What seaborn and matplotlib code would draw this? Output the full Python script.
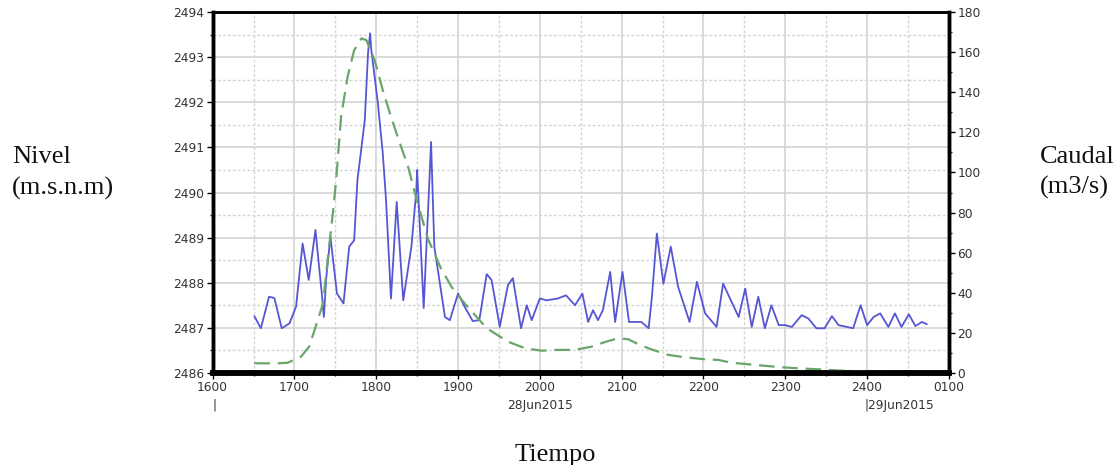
import numpy as np
import pandas as pd
import seaborn as sns
import matplotlib.pyplot as plt
from matplotlib.ticker import MultipleLocator
import matplotlib.transforms as mtransforms

# Nivel (blue, left axis), hora decimal desde las 16:00 del 28Jun2015
nivel_hora = [16.51, 16.59, 16.69, 16.755, 16.845, 16.94, 17.02, 17.10, 17.175, 17.257,
              17.31, 17.334, 17.36, 17.39, 17.44, 17.52, 17.60, 17.67, 17.73, 17.77,
              17.86, 17.90, 17.925, 17.94, 18.02, 18.08, 18.12, 18.18, 18.25, 18.33,
              18.43, 18.49, 18.50, 18.58, 18.65, 18.67, 18.71, 18.84, 18.90, 19.0,
              19.08, 19.18, 19.26, 19.35, 19.41, 19.51, 19.61, 19.67, 19.77, 19.84,
              19.90, 20.0, 20.08, 20.22, 20.32, 20.43, 20.52, 20.59, 20.65, 20.71,
              20.77, 20.86, 20.92, 21.01, 21.09, 21.24, 21.33, 21.37, 21.43, 21.51,
              21.60, 21.69, 21.83, 21.92, 22.02, 22.16, 22.24, 22.43, 22.51, 22.59,
              22.67, 22.75, 22.83, 22.92, 23.0, 23.08, 23.20, 23.28, 23.38, 23.48,
              23.57, 23.65, 23.83, 23.92, 24.0, 24.08, 24.16, 24.26, 24.34, 24.42,
              24.51, 24.59, 24.67, 24.73]
nivel = [2487.26, 2486.99, 2487.69, 2487.66, 2486.99, 2487.10, 2487.47, 2488.87, 2488.06, 2489.17,
         2488.20, 2487.77, 2487.24, 2488.13, 2489.02, 2487.76, 2487.54, 2488.80, 2488.94, 2490.27,
         2491.60, 2493.10, 2493.53, 2493.16, 2491.98, 2490.87, 2489.83, 2487.65, 2489.79, 2487.61,
         2488.80, 2490.05, 2490.50, 2487.44, 2490.27, 2491.12, 2488.80, 2487.24, 2487.17, 2487.76,
         2487.47, 2487.15, 2487.17, 2488.19, 2488.06, 2487.02, 2487.95, 2488.10, 2486.99, 2487.50,
         2487.17, 2487.65, 2487.61, 2487.65, 2487.72, 2487.50, 2487.76, 2487.13, 2487.39, 2487.17,
         2487.39, 2488.24, 2487.13, 2488.24, 2487.13, 2487.13, 2486.99, 2487.69, 2489.09, 2487.98,
         2488.80, 2487.91, 2487.13, 2488.02, 2487.32, 2487.02, 2487.98, 2487.24, 2487.87, 2487.02,
         2487.69, 2486.99, 2487.50, 2487.06, 2487.06, 2487.02, 2487.28, 2487.21, 2486.99, 2486.99,
         2487.26, 2487.06, 2486.99, 2487.50, 2487.06, 2487.24, 2487.32, 2487.02, 2487.32, 2487.02,
         2487.30, 2487.04, 2487.13, 2487.08]

# Caudal (green dashed, right axis)
caudal_hora = [16.51, 16.80, 16.92, 17.08, 17.18, 17.26, 17.35, 17.41, 17.47, 17.51,
               17.57, 17.65, 17.73, 17.82, 17.88, 17.98, 18.08, 18.18, 18.29, 18.39,
               18.49, 18.63, 18.79, 18.92, 19.08, 19.35, 19.61, 19.82, 20.02, 20.22,
               20.43, 20.63, 20.81, 20.96, 21.08, 21.22, 21.36, 21.57, 21.77, 22.02,
               22.18, 22.34, 22.63, 22.96, 23.16, 23.41, 23.65, 23.98, 24.38, 24.71]
caudal = [4.8, 4.8, 5.1, 8.1, 13.1, 23.1, 34.7, 58.0, 79.6, 96.2,
          127.8, 147.7, 161.0, 166.9, 166.0, 156.0, 141.1, 127.8, 114.5, 102.8,
          87.0, 67.1, 52.2, 43.0, 34.7, 22.3, 15.6, 12.3, 11.1, 11.5,
          11.5, 13.1, 15.6, 17.3, 16.8, 14.0, 11.8, 9.0, 7.8, 6.8,
          6.5, 5.1, 4.0, 2.8, 2.3, 1.8, 1.2, 0.7, 0.3, 0.2]

x_ticks = [16, 17, 18, 19, 20, 21, 22, 23, 24, 25]
x_labels = ["1600", "1700", "1800", "1900", "2000", "2100", "2200", "2300", "2400", "0100"]

df_nivel = pd.DataFrame({"hora": nivel_hora, "nivel": nivel})
df_caudal = pd.DataFrame({"hora": caudal_hora, "caudal": caudal})

sns.set_style("white")
plt.rcParams['font.family'] = ['DejaVu Sans']

fig = plt.figure(figsize=(11.19, 4.65), dpi=100)
ax = fig.add_axes([0.190, 0.198, 0.658, 0.776])
ax2 = ax.twinx()

sns.lineplot(ax=ax, data=df_nivel, x="hora", y="nivel", color="#5656d4", linewidth=1.3, sort=False)
sns.lineplot(ax=ax2, data=df_caudal, x="hora", y="caudal", color="#6aa56a", linewidth=1.6,
             sort=False, dashes=False)
ax2.lines[0].set_dashes((7, 3.5))

ax.set_xlim(16, 25)
ax.set_ylim(2486, 2494)
ax2.set_ylim(0, 180)

ax.set_xticks(x_ticks)
ax.set_xticklabels(x_labels)
ax.xaxis.set_minor_locator(MultipleLocator(0.5))
ax.yaxis.set_major_locator(MultipleLocator(1))
ax.yaxis.set_minor_locator(MultipleLocator(0.5))
ax.set_yticklabels([f"{int(v)}" for v in ax.get_yticks()])
ax2.yaxis.set_major_locator(MultipleLocator(20))
ax2.yaxis.set_minor_locator(MultipleLocator(10))

ax.grid(which="major", color="#d4d4d4", linewidth=1.2, linestyle="-")
ax.grid(which="minor", color="#d4d4d4", linewidth=1.0, linestyle=(0, (2, 1.5)))
ax.set_axisbelow(True)

for a in (ax, ax2):
    a.tick_params(axis="both", which="major", direction="out", length=4, width=1,
                  labelsize=8.8, colors="black", labelcolor="#333333", pad=2)
    a.tick_params(axis="both", which="minor", direction="out", length=2.5, width=1)
ax.tick_params(axis="y", which="both", left=True)
ax.tick_params(axis="x", which="both", bottom=True)
ax2.tick_params(axis="y", which="both", right=True)

for name, w in {"left": 2.5, "bottom": 4, "top": 1.8, "right": 2.5}.items():
    ax.spines[name].set_linewidth(w)
    ax.spines[name].set_color("black")
    ax2.spines[name].set_linewidth(w)
    ax2.spines[name].set_color("black")

ax.set_xlabel("")
ax.set_ylabel("")
ax2.set_ylabel("")

# secondary date labels under the time axis
trans = mtransforms.blended_transform_factory(ax.transData, fig.transFigure)
ax.text(16.02, 1 - 405 / 465, "|", transform=trans, ha="center", va="center",
        fontsize=8.8, color="#333333")
ax.text(20, 1 - 405 / 465, "28Jun2015", transform=trans, ha="center", va="center",
        fontsize=8.8, color="#333333")
ax.text(23.97, 1 - 405 / 465, "|29Jun2015", transform=trans, ha="left", va="center",
        fontsize=8.8, color="#333333")

serif = ["Liberation Serif", "DejaVu Serif"]
lab = dict(fontsize=19, family=serif, va="baseline", color="#111111")
fig.text(12 / 1119, 1 - 163 / 465, "Nivel", ha="left", **lab)
fig.text(12 / 1119, 1 - 195 / 465, "(m.s.n.m)", ha="left", **lab)
fig.text(1040 / 1119, 1 - 163 / 465, "Caudal", ha="left", **lab)
fig.text(1040 / 1119, 1 - 194 / 465, "(m3/s)", ha="left", **lab)
fig.text(555 / 1119, 1 - 461 / 465, "Tiempo", ha="center", **lab)

fig.savefig("out.png", dpi=100, facecolor="white")
